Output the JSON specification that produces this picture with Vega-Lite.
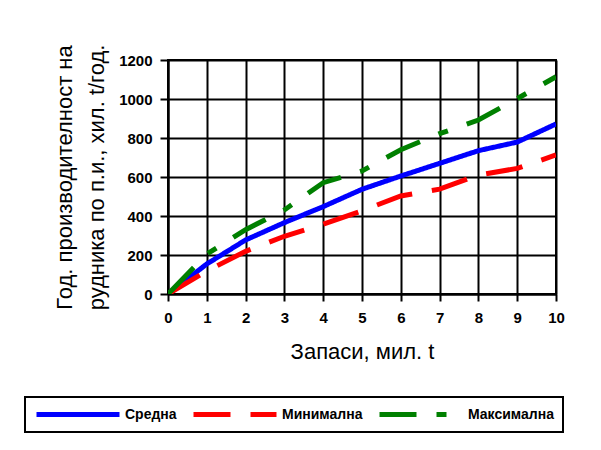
{
  "$schema": "https://vega.github.io/schema/vega-lite/v6.json",
  "width": 388,
  "height": 234,
  "autosize": "none",
  "padding": {"left": 168, "top": 60, "right": 45, "bottom": 156},
  "background": "white",
  "data": {
    "values": [
      {"series": "Средна", "x": 0, "y": 0},
      {"series": "Средна", "x": 1, "y": 154},
      {"series": "Средна", "x": 2, "y": 277},
      {"series": "Средна", "x": 3, "y": 366},
      {"series": "Средна", "x": 4, "y": 448},
      {"series": "Средна", "x": 5, "y": 537},
      {"series": "Средна", "x": 6, "y": 605},
      {"series": "Средна", "x": 7, "y": 670},
      {"series": "Средна", "x": 8, "y": 735},
      {"series": "Средна", "x": 9, "y": 779},
      {"series": "Средна", "x": 10, "y": 872},
      {"series": "Минимална", "x": 0, "y": 0},
      {"series": "Минимална", "x": 1, "y": 118},
      {"series": "Минимална", "x": 2, "y": 219},
      {"series": "Минимална", "x": 3, "y": 296},
      {"series": "Минимална", "x": 4, "y": 358},
      {"series": "Минимална", "x": 5, "y": 427},
      {"series": "Минимална", "x": 6, "y": 503},
      {"series": "Минимална", "x": 7, "y": 538},
      {"series": "Минимална", "x": 8, "y": 610},
      {"series": "Минимална", "x": 9, "y": 644},
      {"series": "Минимална", "x": 10, "y": 713},
      {"series": "Максимална", "x": 0, "y": 0},
      {"series": "Максимална", "x": 1, "y": 205},
      {"series": "Максимална", "x": 2, "y": 330},
      {"series": "Максимална", "x": 3, "y": 431},
      {"series": "Максимална", "x": 4, "y": 571},
      {"series": "Максимална", "x": 5, "y": 631},
      {"series": "Максимална", "x": 6, "y": 740},
      {"series": "Максимална", "x": 7, "y": 822},
      {"series": "Максимална", "x": 8, "y": 892},
      {"series": "Максимална", "x": 9, "y": 1002},
      {"series": "Максимална", "x": 10, "y": 1114}
    ]
  },
  "mark": {"type": "line", "strokeWidth": 5, "clip": true},
  "encoding": {
    "x": {
      "field": "x",
      "type": "quantitative",
      "scale": {"domain": [0, 10], "nice": false, "zero": false},
      "axis": {
        "values": [0, 1, 2, 3, 4, 5, 6, 7, 8, 9, 10],
        "format": "d",
        "title": "Запаси, мил. t",
        "tickSize": 7,
        "labelPadding": 9,
        "titlePadding": 16
      }
    },
    "y": {
      "field": "y",
      "type": "quantitative",
      "scale": {"domain": [0, 1200], "nice": false},
      "axis": {
        "values": [0, 200, 400, 600, 800, 1000, 1200],
        "format": "d",
        "title": ["Год. производителност на", "рудника по п.и., хил. t/год."],
        "tickSize": 8,
        "labelPadding": 8,
        "titlePadding": 10,
        "titleLineHeight": 32
      }
    },
    "color": {
      "field": "series",
      "type": "nominal",
      "sort": ["Средна", "Минимална", "Максимална"],
      "scale": {
        "domain": ["Средна", "Минимална", "Максимална"],
        "range": ["#0000ff", "#ff0000", "#008000"]
      },
      "legend": {
        "title": null,
        "orient": "none",
        "direction": "horizontal",
        "legendX": -143,
        "legendY": 337
      }
    },
    "strokeDash": {
      "field": "series",
      "type": "nominal",
      "sort": ["Средна", "Минимална", "Максимална"],
      "scale": {
        "domain": ["Средна", "Минимална", "Максимална"],
        "range": [[1, 0], [37, 20], [37, 20, 10, 20]]
      },
      "legend": {
        "title": null,
        "orient": "none",
        "direction": "horizontal",
        "legendX": -143,
        "legendY": 337
      }
    }
  },
  "config": {
    "view": {"stroke": "black", "strokeWidth": 2},
    "axis": {
      "grid": true,
      "gridColor": "black",
      "gridWidth": 2,
      "gridOpacity": 1,
      "domainColor": "black",
      "domainWidth": 2,
      "tickColor": "black",
      "tickWidth": 2,
      "labelFont": "Liberation Sans",
      "labelFontWeight": "bold",
      "labelFontSize": 15,
      "labelColor": "black",
      "labelFlush": false,
      "labelOverlap": false,
      "titleFont": "Liberation Sans",
      "titleFontWeight": "normal",
      "titleFontSize": 22,
      "titleColor": "black"
    },
    "legend": {
      "symbolType": "stroke",
      "symbolSize": 6889,
      "symbolStrokeWidth": 5,
      "clipHeight": 17,
      "labelFont": "Liberation Sans",
      "labelFontWeight": "bold",
      "labelFontSize": 14,
      "labelColor": "black",
      "labelOffset": 3,
      "columnPadding": 14,
      "padding": 9,
      "strokeColor": "black",
      "strokeWidth": 2,
      "labelLimit": 0
    }
  }
}
